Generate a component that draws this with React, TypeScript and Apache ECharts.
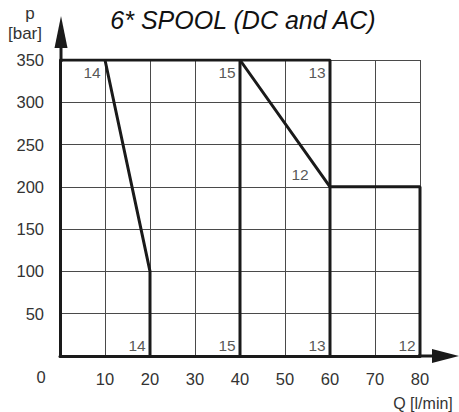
import React, { useEffect, useRef } from "react";
import * as echarts from "echarts";

const xTicks = [0, 10, 20, 30, 40, 50, 60, 70, 80];
const yTicks = [0, 50, 100, 150, 200, 250, 300, 350];
const curve14 = [[10, 350], [20, 100], [20, 0]];
const curve15 = [[40, 350], [40, 0]];
const curve13 = [[0, 350], [60, 350], [60, 0]];
const curve12 = [[40, 350], [60, 200], [80, 200], [80, 0]];
const curveNames = ["14", "15", "13", "12", "14", "15", "13", "12"];
const curveLabelX = [10, 40, 60, 60, 20, 40, 60, 80];
const curveLabelY = [350, 350, 350, 200, 0, 0, 0, 0];
const curveLabelKind = ["top", "top", "top", "mid", "bot", "bot", "bot", "bot"];

const FONT = "'Liberation Sans', Arial, sans-serif";

export default function App() {
  const ref = useRef<HTMLDivElement>(null);
  useEffect(() => {
    if (!ref.current) return;
    const chart = echarts.init(ref.current, undefined, { renderer: "svg" });
    const offsets: Record<string, number[]> = {
      top: [-13, 12],
      mid: [-30, -12],
      bot: [-13, -11],
    };
    const labelData = curveNames.map((n, i) => ({
      value: [curveLabelX[i], curveLabelY[i]],
      name: n,
      label: { offset: offsets[curveLabelKind[i]] },
    }));
    const lineStyle = { color: "#1a1a1a", width: 3 };
    const mk = (data: number[][]) => ({
      type: "line",
      data,
      symbol: "none",
      lineStyle,
      silent: true,
      z: 5,
    });
    chart.setOption({
      animation: false,
      grid: { left: 60, right: 39, top: 60, bottom: 56 },
      xAxis: {
        type: "value",
        min: xTicks[0],
        max: xTicks[xTicks.length - 1],
        interval: 10,
        axisLine: { lineStyle: { color: "#1a1a1a", width: 3 } },
        axisTick: { show: false },
        splitLine: { lineStyle: { color: "#4a4a4a", width: 1 } },
        axisLabel: {
          margin: 14,
          fontFamily: FONT,
          fontSize: 16.5,
          color: "#333",
          formatter: (v: number) => (v === 0 ? "" : String(v)),
        },
      },
      yAxis: {
        type: "value",
        min: yTicks[0],
        max: yTicks[yTicks.length - 1],
        interval: 50,
        axisLine: { lineStyle: { color: "#1a1a1a", width: 3 } },
        axisTick: { show: false },
        splitLine: { lineStyle: { color: "#4a4a4a", width: 1 } },
        axisLabel: {
          margin: 16,
          fontFamily: FONT,
          fontSize: 16.5,
          color: "#333",
          formatter: (v: number) => (v === 0 ? "" : String(v)),
        },
      },
      series: [
        mk(curve14),
        mk(curve15),
        mk(curve13),
        mk(curve12),
        {
          type: "scatter",
          data: labelData,
          symbolSize: 0,
          silent: true,
          z: 6,
          label: {
            show: true,
            position: "inside",
            formatter: (p: any) => p.name,
            fontFamily: FONT,
            fontSize: 15.5,
            color: "#2a2a2a",
          },
        },
      ],
      graphic: [
        { type: "line", shape: { x1: 61, y1: 62, x2: 61, y2: 45 }, style: { stroke: "#1a1a1a", lineWidth: 3 } },
        { type: "polygon", shape: { points: [[61, 16], [54.5, 48], [67.5, 48]] }, style: { fill: "#1a1a1a" } },
        { type: "line", shape: { x1: 418, y1: 356, x2: 436, y2: 356 }, style: { stroke: "#1a1a1a", lineWidth: 3 } },
        { type: "polygon", shape: { points: [[459, 356], [432, 349], [432, 363]] }, style: { fill: "#1a1a1a" } },
        {
          type: "text",
          x: 243,
          y: 20,
          style: {
            text: "6* SPOOL (DC and AC)",
            fontFamily: FONT,
            fontStyle: "italic",
            fontSize: 25,
            fill: "#111",
            textAlign: "center",
            textVerticalAlign: "middle",
          },
        },
        {
          type: "text",
          x: 30,
          y: 13,
          style: { text: "p", fontFamily: FONT, fontSize: 17, fill: "#333", textAlign: "center", textVerticalAlign: "middle" },
        },
        {
          type: "text",
          x: 25,
          y: 33,
          style: { text: "[bar]", fontFamily: FONT, fontSize: 17, fill: "#333", textAlign: "center", textVerticalAlign: "middle" },
        },
        {
          type: "text",
          x: 41,
          y: 377,
          style: { text: "0", fontFamily: FONT, fontSize: 16.5, fill: "#333", textAlign: "center", textVerticalAlign: "middle" },
        },
        {
          type: "text",
          x: 423,
          y: 403,
          style: { text: "Q [l/min]", fontFamily: FONT, fontSize: 16, fill: "#333", textAlign: "center", textVerticalAlign: "middle" },
        },
      ],
    });
    return () => chart.dispose();
  }, []);
  return <div ref={ref} style={{ width: 459, height: 412, position: "absolute", left: 0, top: 0 }} />;
}
